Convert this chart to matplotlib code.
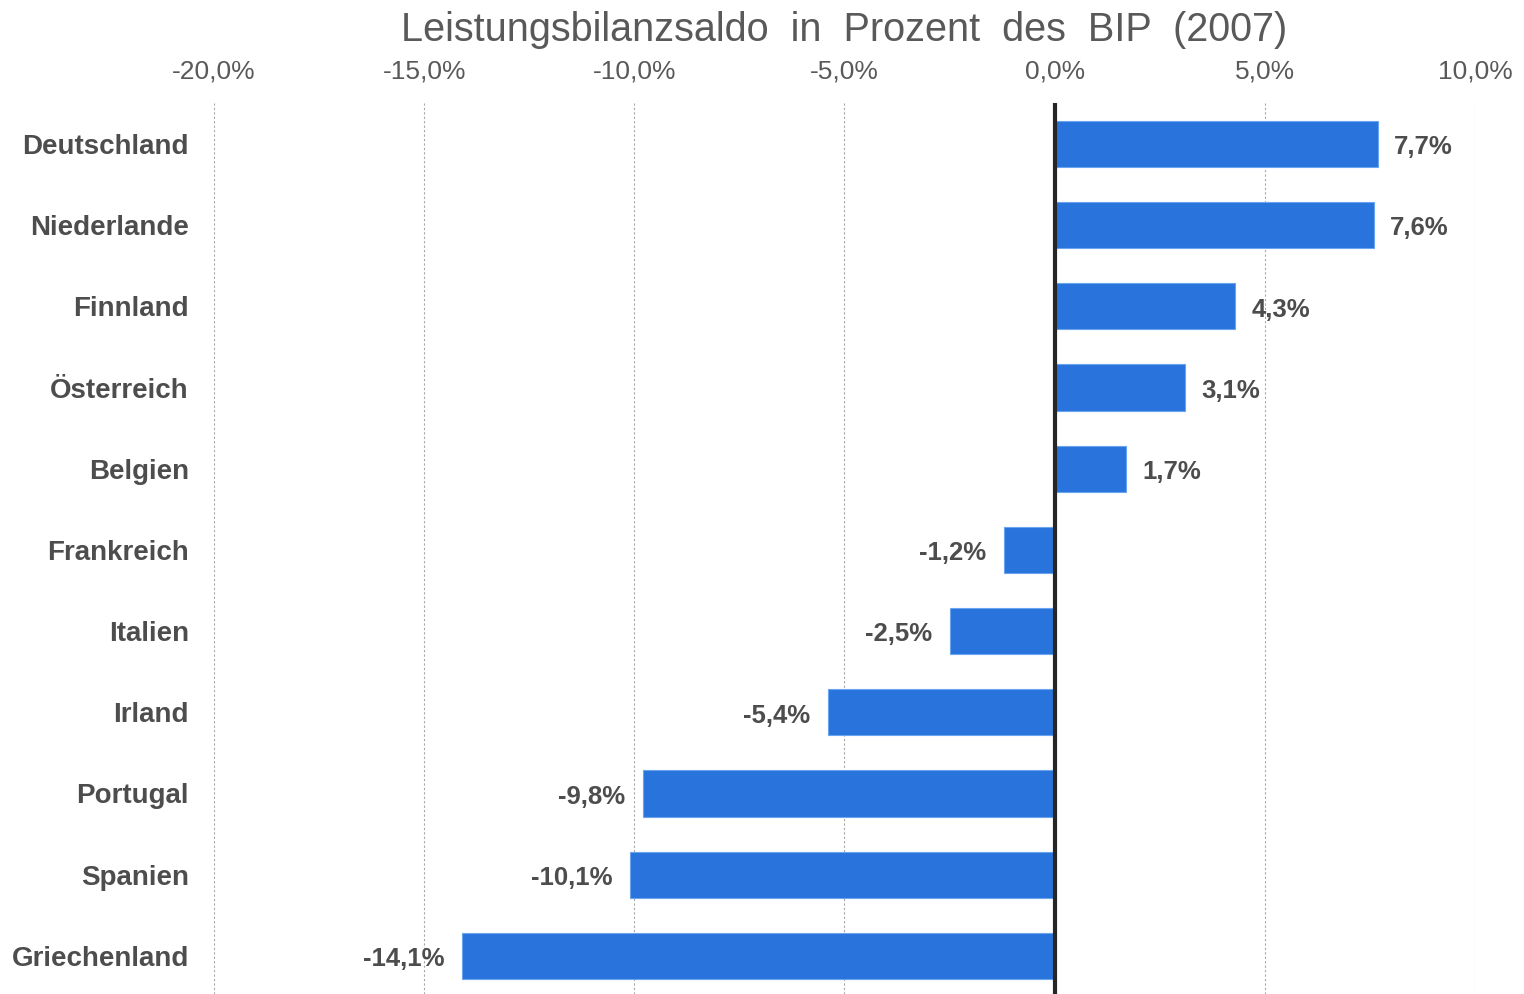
import numpy as np
import matplotlib.pyplot as plt

laender = ['Deutschland', 'Niederlande', 'Finnland', 'Österreich', 'Belgien',
           'Frankreich', 'Italien', 'Irland', 'Portugal', 'Spanien', 'Griechenland']
saldo = [7.7, 7.6, 4.3, 3.1, 1.7, -1.2, -2.5, -5.4, -9.8, -10.1, -14.1]
ticks = [-20, -15, -10, -5, 0, 5, 10]

plt.rcParams['font.family'] = ['Liberation Sans', 'DejaVu Sans']

def fmt(v):
    return f'{v:.1f}'.replace('.', ',') + '%'

fig = plt.figure(figsize=(15.24, 9.94), dpi=100)
ax = fig.add_axes([0.1404, 0.0, 0.8274, 0.8964])

y = np.arange(len(laender))
ax.barh(y, saldo, height=0.57, color='#2874dc', edgecolor='#6aa3ee', linewidth=0.8, zorder=2)
ax.axvline(0, color='#262626', linewidth=3, zorder=3)

ax.set_xlim(-20, 10)
ax.set_ylim(len(laender) - 0.53, -0.505)
ax.set_xticks(ticks)
ax.set_xticklabels([fmt(t) for t in ticks])
ax.xaxis.tick_top()
ax.tick_params(axis='x', length=0, pad=14, labelsize=19, labelcolor='#595959')
ax.set_yticks(y)
ax.set_yticklabels(laender, fontweight='bold')
ax.tick_params(axis='y', length=0, pad=18, labelsize=20, labelcolor='#4d4d4d')
ax.grid(axis='x', linestyle=(0, (2, 2)), color='#a6a6a6', linewidth=0.8, zorder=0)
for s in ax.spines.values():
    s.set_visible(False)

for yi, v in zip(y, saldo):
    if v >= 0:
        ax.text(v + 0.38, yi + 0.04, fmt(v), ha='left', va='center',
                fontsize=18.5, fontweight='bold', color='#4d4d4d')
    else:
        ax.text(v - 0.42, yi + 0.04, fmt(v), ha='right', va='center',
                fontsize=18.5, fontweight='bold', color='#4d4d4d')

fig.text(0.554, 0.970, 'Leistungsbilanzsaldo  in  Prozent  des  BIP  (2007)', ha='center', va='center',
         fontsize=28.5, color='#595959')

fig.savefig('out.png', dpi=100)
